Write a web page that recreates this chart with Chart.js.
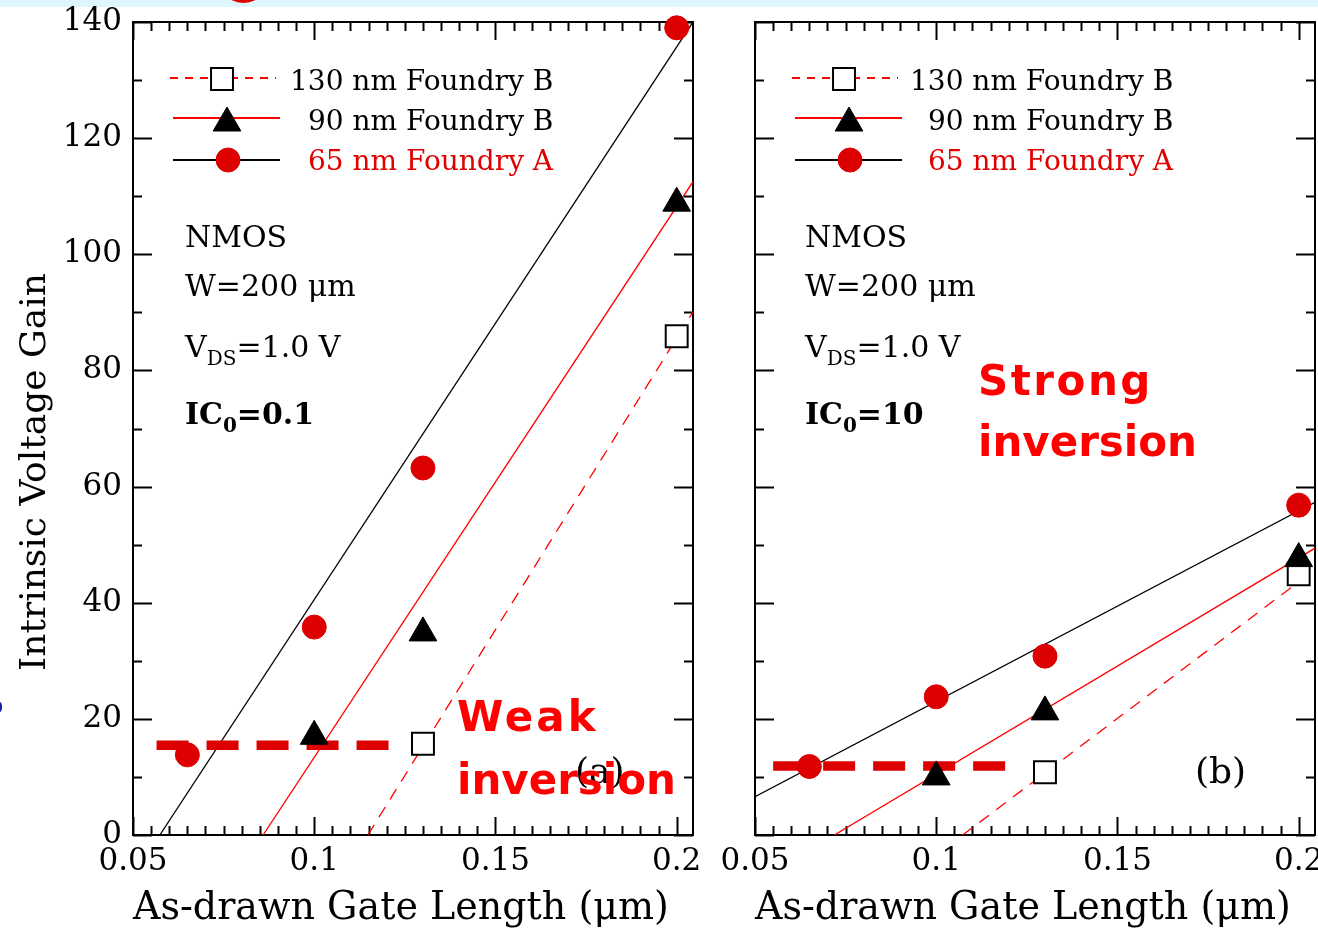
<!DOCTYPE html>
<html><head><meta charset="utf-8">
<title>Intrinsic Voltage Gain vs Gate Length</title>
<script src="https://cdn.jsdelivr.net/npm/chart.js@4.4.1/dist/chart.umd.min.js"></script>
<style>
html,body{margin:0;padding:0;background:#fff}
body{position:relative;width:1318px;height:933px;overflow:hidden}
canvas{position:absolute;top:0}
#ca{left:0}
#cb{left:700px}
.t{position:absolute;white-space:nowrap;line-height:1;color:#000;font-family:'DejaVu Serif',serif}
.ann{font-size:30px}
.bold{font-weight:bold}
.leg{font-size:28px}
.red{color:#e00000}
.big{font-family:'DejaVu Sans',sans-serif;font-weight:bold;font-size:42px;color:#ff0000}
.sub{font-size:20px;position:relative;top:8px}
#band{position:absolute;left:0;top:0;width:1318px;height:7px;background:#dff6fc}
#blob{position:absolute;left:228px;top:-14px;width:31px;height:17px;border-radius:50%;background:#e00000}
#bluemark{position:absolute;left:-3px;top:702px;width:5px;height:10px;border-radius:50%;background:#1f1fa0}
</style></head>
<body>
<div id="band"></div><div id="blob"></div><div id="bluemark"></div>
<canvas id="ca" width="720" height="933"></canvas>
<canvas id="cb" width="640" height="933"></canvas>

<div class="t" style="font-size:36px;left:-217px;top:454px;width:500px;text-align:center;transform:rotate(-90deg)">Intrinsic Voltage Gain</div>

<!-- panel (a) legend labels -->
<div class="t leg" style="left:290px;top:67px">130 nm Foundry B</div>
<div class="t leg" style="left:308px;top:107px">90 nm Foundry B</div>
<div class="t leg red" style="left:308px;top:147px">65 nm Foundry A</div>
<!-- panel (b) legend labels -->
<div class="t leg" style="left:910px;top:67px">130 nm Foundry B</div>
<div class="t leg" style="left:928px;top:107px">90 nm Foundry B</div>
<div class="t leg red" style="left:928px;top:147px">65 nm Foundry A</div>

<!-- panel (a) conditions -->
<div class="t ann" style="left:185px;top:222px">NMOS</div>
<div class="t ann" style="left:185px;top:271px">W=200 μm</div>
<div class="t ann" style="left:185px;top:332px">V<span class="sub">DS</span>=1.0 V</div>
<div class="t ann bold" style="left:185px;top:399px">IC<span class="sub">0</span>=0.1</div>
<!-- panel (b) conditions -->
<div class="t ann" style="left:805px;top:222px">NMOS</div>
<div class="t ann" style="left:805px;top:271px">W=200 μm</div>
<div class="t ann" style="left:805px;top:332px">V<span class="sub">DS</span>=1.0 V</div>
<div class="t ann bold" style="left:805px;top:399px">IC<span class="sub">0</span>=10</div>

<div class="t" style="font-size:36px;left:575px;top:753px">(a)</div>
<div class="t" style="font-size:36px;left:1195px;top:753px">(b)</div>

<div class="t big" style="left:457px;top:696px;letter-spacing:3px">Weak</div>
<div class="t big" style="left:457px;top:759px">inversion</div>
<div class="t big" style="left:978px;top:360px;letter-spacing:2.5px">Strong</div>
<div class="t big" style="left:978px;top:421px">inversion</div>

<script>
// ---------- data ----------
const gateLength = [0.065, 0.1, 0.13, 0.2];           // µm
const xTickValues = [0.05, 0.1, 0.15, 0.2];
const xTickLabels = ['0.05', '0.1', '0.15', '0.2'];
const yTickValues = [0, 20, 40, 60, 80, 100, 120, 140];

// panel (a): IC0 = 0.1 (weak inversion)
const gainA_65  = [13.8, 35.8, 63.2, 139.0];
const gainA_90  = [null, 17.0, 34.8, 108.8];
const gainA_130 = [null, null, 15.7, 85.9];
// panel (b): IC0 = 10 (strong inversion)
const gainB_65  = [11.8, 23.8, 30.8, 56.8];
const gainB_90  = [null, 10.0, 21.2, 47.6];
const gainB_130 = [null, null, 10.8, 44.9];

// fitted straight lines, [x, y] end points
const fitA_65  = [[0.0574, 0], [0.2045, 140]];
const fitA_90  = [[0.0859, 0], [0.2045, 112.5]];
const fitA_130 = [[0.1148, 0], [0.2045, 90.1]];
const fitB_65  = [[0.05, 6.6], [0.2045, 57.3]];
const fitB_90  = [[0.0719, 0], [0.2045, 49.4]];
const fitB_130 = [[0.1073, 0], [0.2045, 45.7]];

// thick dashed level markers
const weakLevel   = [[0.0565, 15.45], [0.1208, 15.45]];
const strongLevel = [[0.055, 11.9], [0.1194, 11.9]];

const seriesNames = ['130 nm Foundry B', '90 nm Foundry B', '65 nm Foundry A'];

// ---------- helpers ----------
const isIn = (list, v) => list.some(t => Math.abs(t - v) < 1e-6);
const pts = ys => gateLength.map((x, i) => ys[i] == null ? null : {x, y: ys[i]}).filter(Boolean);
const xy = arr => arr.map(([x, y]) => ({x, y}));

function buildDatasets(g130, g90, g65, f130, f90, f65, level) {
  return [
    {label: 'level', data: xy(level), borderColor: '#dd0000', borderWidth: 9.5, borderDash: [32, 18],
     pointRadius: 0, order: 3, clip: false},
    {label: 'fit65', fitFor: seriesNames[2], data: xy(f65), borderColor: '#000', borderWidth: 1.3, pointRadius: 0, order: 4},
    {label: 'fit90', fitFor: seriesNames[1], data: xy(f90), borderColor: '#ff0000', borderWidth: 1.3, pointRadius: 0, order: 4},
    {label: 'fit130', fitFor: seriesNames[0], data: xy(f130), borderColor: '#ff0000', borderWidth: 1.3, borderDash: [12, 9],
     legendDash: [8, 7], pointRadius: 0, order: 4},
    {label: seriesNames[0], data: pts(g130), showLine: false, pointStyle: 'rect', pointRadius: 15.5,
     pointBackgroundColor: '#fff', pointBorderColor: '#000', pointBorderWidth: 2, order: 1, clip: false},
    {label: seriesNames[1], data: pts(g90), showLine: false, pointStyle: 'triangle', pointRadius: 16,
     pointBackgroundColor: '#000', pointBorderColor: '#000', pointBorderWidth: 1, order: 0, clip: false},
    {label: seriesNames[2], data: pts(g65), showLine: false, pointStyle: 'circle', pointRadius: 12,
     pointBackgroundColor: '#dd0000', pointBorderColor: '#dd0000', pointBorderWidth: 1, order: 0, clip: false}
  ];
}

// ---------- plugins ----------
const frameTicks = {
  id: 'frameTicks',
  beforeDatasetsDraw(chart) {
    const {ctx, chartArea: a, scales: {x, y}} = chart;
    ctx.save();
    ctx.strokeStyle = '#000';
    ctx.lineWidth = 2;
    ctx.beginPath();
    x.ticks.forEach(t => {
      const px = Math.round(x.getPixelForValue(t.value)) + 0.5;
      const L = isIn(xTickValues, t.value) ? 18 : 9;
      ctx.moveTo(px, a.bottom); ctx.lineTo(px, a.bottom - L);
      ctx.moveTo(px, a.top); ctx.lineTo(px, a.top + L);
    });
    y.ticks.forEach(t => {
      const py = Math.round(y.getPixelForValue(t.value)) + 0.5;
      const L = isIn(yTickValues, t.value) ? 19 : 9;
      ctx.moveTo(a.left, py); ctx.lineTo(a.left + L, py);
      ctx.moveTo(a.right, py); ctx.lineTo(a.right - L, py);
    });
    ctx.stroke();
    ctx.strokeRect(a.left, a.top, a.width, a.height);
    ctx.restore();
  }
};

const legendRows = [
  {y: 78,  yMark: 79,  x0: 37, x1: 143, xm: 89},
  {y: 118, yMark: 123, x0: 40, x1: 147, xm: 94},
  {y: 160, yMark: 160, x0: 40, x1: 147, xm: 95}
];
const legendSymbols = {
  id: 'legendSymbols',
  afterDatasetsDraw(chart) {
    const {ctx, chartArea: a} = chart;
    const ds = chart.data.datasets;
    legendRows.forEach((r, i) => {
      const name = seriesNames[i];
      const d = ds.find(s => s.label === name);
      const f = ds.find(s => s.fitFor === name);
      ctx.save();
      ctx.strokeStyle = f.borderColor;
      ctx.lineWidth = 2;
      ctx.setLineDash(f.legendDash || []);
      ctx.beginPath();
      ctx.moveTo(a.left + r.x0, r.y); ctx.lineTo(a.left + r.x1, r.y);
      ctx.stroke();
      ctx.setLineDash([]);
      ctx.fillStyle = d.pointBackgroundColor;
      ctx.strokeStyle = d.pointBorderColor;
      ctx.lineWidth = d.pointBorderWidth;
      Chart.helpers.drawPoint(ctx, {pointStyle: d.pointStyle, radius: d.pointRadius,
        borderWidth: d.pointBorderWidth, rotation: 0}, a.left + r.xm, r.yMark);
      ctx.restore();
    });
  }
};

// ---------- charts ----------
const serif = 'DejaVu Serif';
function makeChart(id, datasets, padding, yWidth, showYLabels) {
  return new Chart(document.getElementById(id), {
    type: 'line',
    data: {datasets},
    options: {
      responsive: false, animation: false, events: [],
      layout: {padding},
      plugins: {legend: {display: false}, tooltip: {enabled: false}},
      elements: {line: {tension: 0}},
      scales: {
        x: {
          type: 'linear', min: 0.05, max: 0.2045,
          grid: {display: false, drawTicks: false}, border: {display: false},
          ticks: {
            stepSize: 0.005, includeBounds: false, autoSkip: false, maxRotation: 0, minRotation: 0,
            padding: 8, color: '#000', font: {family: serif, size: 31},
            callback: v => { const k = xTickValues.findIndex(t => Math.abs(t - v) < 1e-6); return k >= 0 ? xTickLabels[k] : ''; }
          },
          title: {display: true, text: 'As-drawn Gate Length (μm)\u00a0\u00a0', color: '#000',
                  font: {family: serif, size: 40}, padding: {top: 0, bottom: 0}},
          afterFit(s) { s.height = 98; }
        },
        y: {
          type: 'linear', min: 0, max: 140,
          grid: {display: false, drawTicks: false}, border: {display: false},
          ticks: {
            display: showYLabels, stepSize: 10, autoSkip: false, padding: 11, color: '#000',
            font: {family: serif, size: 31},
            callback: v => isIn(yTickValues, v) ? String(v) : ''
          },
          afterFit(s) { s.width = yWidth; s.paddingTop = 0; s.paddingBottom = 0; }
        }
      }
    },
    plugins: [frameTicks, legendSymbols]
  });
}

makeChart('ca', buildDatasets(gainA_130, gainA_90, gainA_65, fitA_130, fitA_90, fitA_65, weakLevel),
          {left: 0, top: 22, right: 27, bottom: 0}, 133, true);
makeChart('cb', buildDatasets(gainB_130, gainB_90, gainB_65, fitB_130, fitB_90, fitB_65, strongLevel),
          {left: 0, top: 22, right: 25, bottom: 0}, 55, false);
</script>
</body></html>
